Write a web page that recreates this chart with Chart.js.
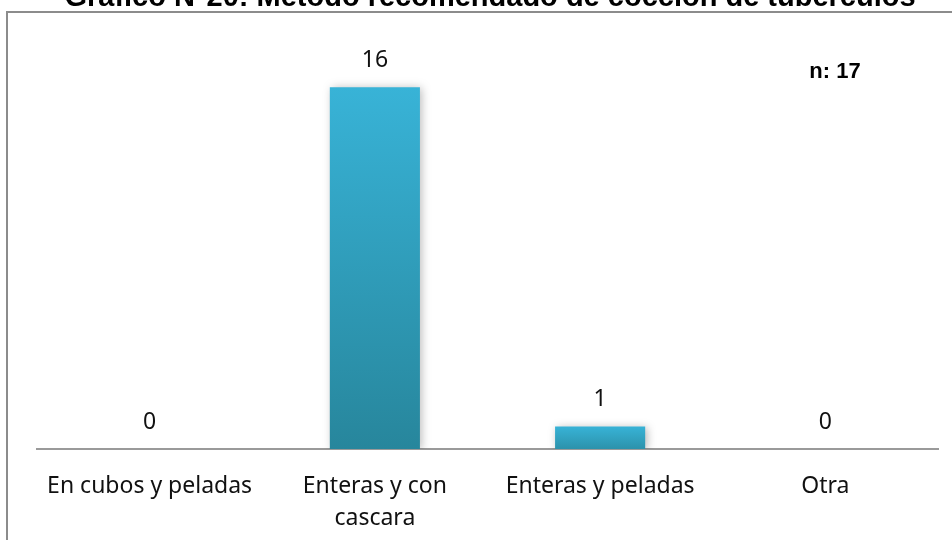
<!DOCTYPE html>
<html>
<head>
<meta charset="utf-8">
<script src="https://cdn.jsdelivr.net/npm/chart.js@4"></script>
<style>
  html, body { margin: 0; padding: 0; background: #fff; }
  canvas { display: block; }
</style>
</head>
<body>
<canvas id="chart" width="952" height="540"></canvas>
<script>
// Gráfico N°20 — método recomendado de cocción de tubérculos

const TITLE = 'Gráfico N°20: Método recomendado de cocción de tubérculos'
const categories = [
  'En cubos y peladas',
  ['Enteras y con', 'cascara'],
  'Enteras y peladas',
  'Otra',
]
const values = [0, 16, 1, 0]
const yMax = 18

const LABEL_FONT = "'Noto Sans', 'Open Sans', sans-serif"
const total = values.reduce((a, b) => a + b, 0)

// vertical gradient per bar, light top -> darker teal bottom
function barFill(ctx) {
  const chart = ctx.chart
  if (!chart.chartArea) return '#33a6c6'
  const y = chart.scales.y
  const v = ctx.raw
  const top = y.getPixelForValue(v)
  const bottom = y.getPixelForValue(0)
  if (bottom - top < 1) return '#33a6c6'
  const g = chart.ctx.createLinearGradient(0, top, 0, bottom)
  g.addColorStop(0, '#38b3d7')
  g.addColorStop(1, v > 4 ? '#27869c' : '#2c92ab')
  return g
}

// frame, title, shadow and value labels
const decor = {
  id: 'decor',
  beforeDraw(chart) {
    const c = chart.ctx
    c.save()
    c.strokeStyle = '#8c8c8c'
    c.lineWidth = 2
    c.beginPath()
    c.moveTo(7, 540)
    c.lineTo(7, 12)
    c.lineTo(952, 12)
    c.stroke()

    c.fillStyle = '#000'
    c.font = "bold 29px 'Liberation Sans', Arial, sans-serif"
    c.textAlign = 'center'
    c.textBaseline = 'alphabetic'
    c.fillText(TITLE, 490, 6)
    c.restore()
  },
  beforeDatasetsDraw(chart) {
    const c = chart.ctx
    c.save()
    c.shadowColor = 'rgba(0,0,0,0.28)'
    c.shadowBlur = 9
    c.shadowOffsetX = 2
    c.shadowOffsetY = 1
  },
  afterDatasetsDraw(chart) {
    const c = chart.ctx
    c.restore()
    c.save()
    c.fillStyle = '#111'
    c.font = '23px ' + LABEL_FONT
    c.textAlign = 'center'
    c.textBaseline = 'middle'
    chart.getDatasetMeta(0).data.forEach((bar, i) => {
      c.fillText(String(values[i]), bar.x, bar.y - 27)
    })

    c.fillStyle = '#000'
    c.font = "bold 22px 'Liberation Sans', Arial, sans-serif"
    c.fillText('n: ' + total, 835, 72)
    c.restore()
  },
}

new Chart(document.getElementById('chart'), {
  type: 'bar',
  data: {
    labels: categories,
    datasets: [{
      data: values,
      backgroundColor: barFill,
      borderWidth: 0,
      barPercentage: 0.4,
      categoryPercentage: 1,
    }],
  },
  options: {
    responsive: false,
    animation: false,
    layout: { padding: { left: 37, right: 14, top: 42, bottom: 0 } },
    plugins: {
      legend: { display: false },
      tooltip: { enabled: false },
    },
    scales: {
      x: {
        grid: { display: false, drawTicks: false },
        border: { display: true, color: '#9a9a9a', width: 2 },
        ticks: {
          color: '#111',
          padding: 21,
          maxRotation: 0,
          autoSkip: false,
          font: { family: LABEL_FONT, size: 23, lineHeight: 1.4 },
        },
        afterFit(axis) { axis.height = 91 },
      },
      y: {
        display: false,
        min: 0,
        max: yMax,
      },
    },
  },
  plugins: [decor],
})
</script>
</body>
</html>
